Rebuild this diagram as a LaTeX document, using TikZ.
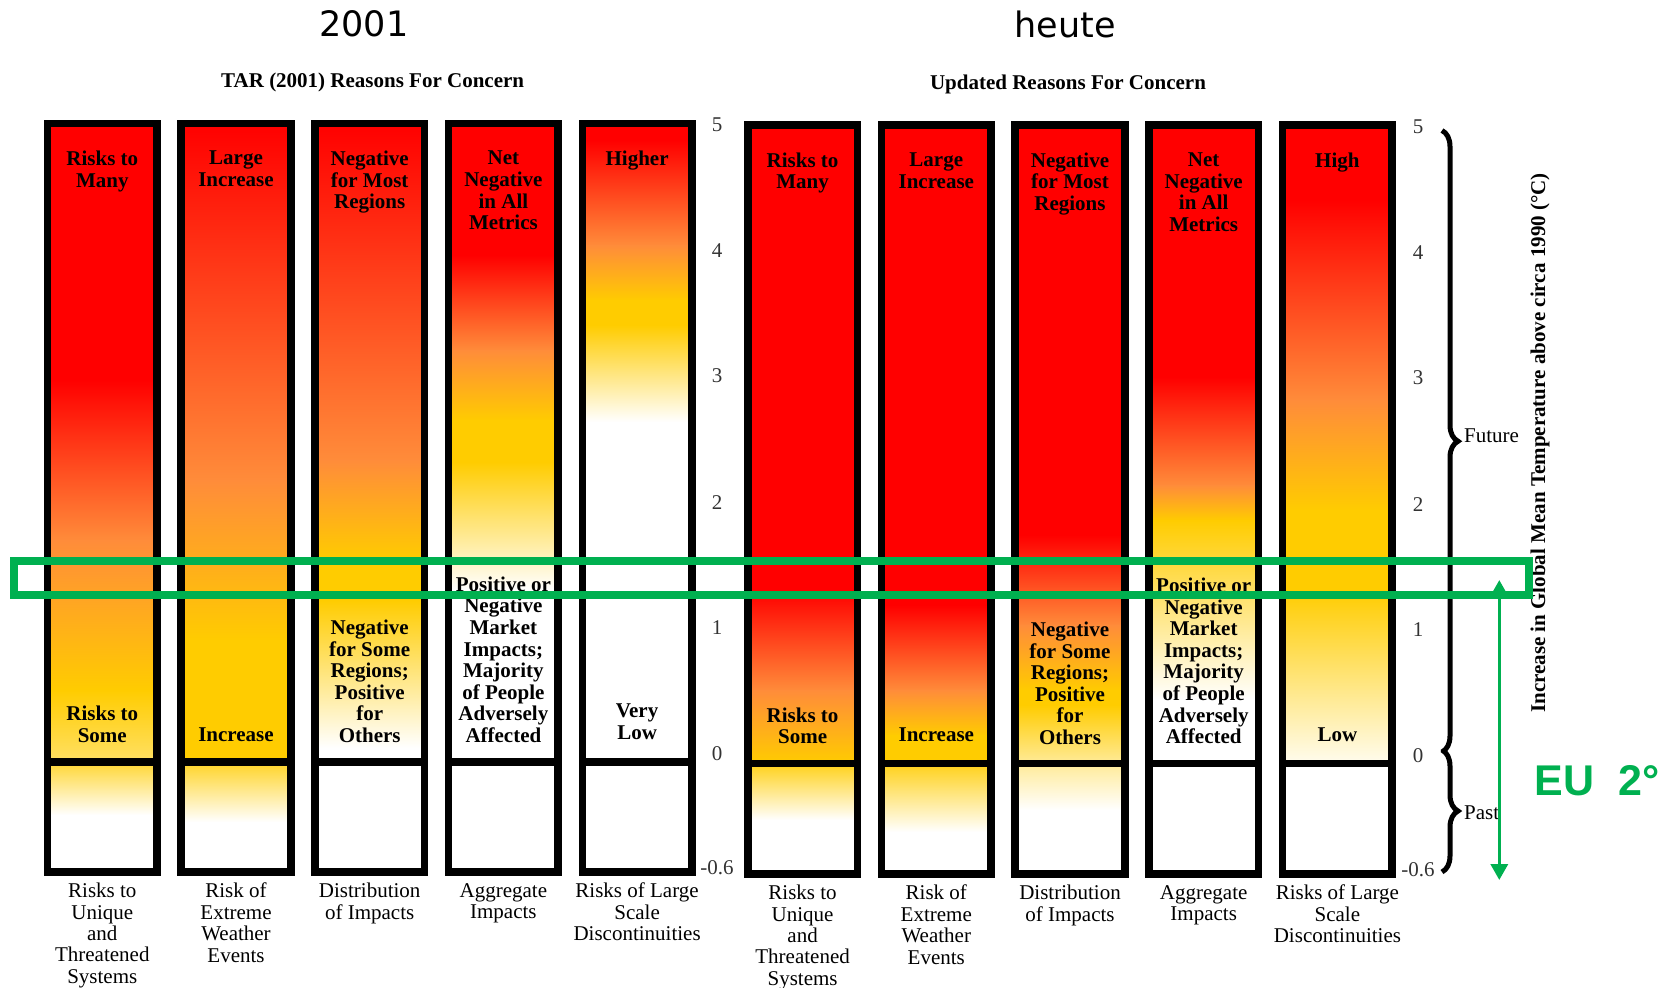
\documentclass[tikz,border=0pt]{standalone}
\usepackage{fontspec}
\setmainfont{Liberation Serif}
\newfontfamily\headfont{DejaVu Sans}
\newfontfamily\eufont{Liberation Sans}
\usetikzlibrary{arrows.meta,decorations.pathreplacing}
\definecolor{emred}{RGB}{255,0,0}
\definecolor{emorange}{RGB}{255,140,58}
\definecolor{emyellow}{RGB}{255,204,0}
\definecolor{emlight}{RGB}{255,224,100}
\definecolor{empale}{RGB}{255,252,238}
\definecolor{eugreen}{RGB}{0,176,80}
\tikzset{
  ember/.style={draw=black,line width=7.5pt},
  emtext/.style={font=\bfseries\fontsize{21}{21.6}\selectfont,align=center,inner sep=0pt,anchor=north},
  reason/.style={font=\fontsize{21}{21.4}\selectfont,align=center,inner sep=0pt,anchor=north},
  tickl/.style={font=\fontsize{21}{21}\selectfont,text=black!80,inner sep=0pt},
  heading/.style={font=\bfseries\fontsize{21}{21}\selectfont,inner sep=0pt},
  yearlabel/.style={font=\headfont\fontsize{35}{35}\selectfont,inner sep=0pt},
  sidetext/.style={font=\fontsize{21}{21}\selectfont,inner sep=0pt,anchor=west},
  bracket/.style={draw=black,line width=5pt,decorate,decoration={brace,amplitude=16pt}},
  eubox/.style={draw=eugreen,line width=8pt},
  euarrow/.style={draw=eugreen,line width=3.5pt,arrows={Triangle[width=17pt,length=16pt]-Triangle[width=17pt,length=16pt]}},
  eulabel/.style={font=\eufont\bfseries\fontsize{43}{43}\selectfont,text=eugreen,inner sep=0pt},
}
\begin{document}
    \begin{tikzpicture}[x=1pt,y=-1pt]
      \useasboundingbox (0,0) rectangle (1666,988);
      \fill[emred] (47.5,123.5) rectangle (157,381);
      \shade[top color=emred,bottom color=emorange] (47.5,380) rectangle (157,541);
      \shade[top color=emorange,bottom color=emyellow] (47.5,540) rectangle (157,691);
      \shade[top color=emyellow,bottom color=emlight] (47.5,690) rectangle (157,762);
      \shade[top color=emyellow!80!white,bottom color=white] (47.5,762) rectangle (157,815);
      \shade[top color=emred,bottom color=emorange] (181,123.5) rectangle (291,481);
      \shade[top color=emorange,bottom color=emyellow] (181,480) rectangle (291,641);
      \fill[emyellow] (181,640) rectangle (291,762);
      \shade[top color=emyellow!85!white,bottom color=white] (181,762) rectangle (291,822);
      \shade[top color=emred,bottom color=emorange] (315,123.5) rectangle (424.5,461);
      \shade[top color=emorange,bottom color=emyellow] (315,460) rectangle (424.5,561);
      \fill[emyellow] (315,560) rectangle (424.5,601);
      \shade[top color=emyellow,bottom color=white] (315,600) rectangle (424.5,748);
      \fill[emred] (448.5,123.5) rectangle (558,256);
      \shade[top color=emred,bottom color=emorange] (448.5,255) rectangle (558,351);
      \shade[top color=emorange,bottom color=emyellow] (448.5,350) rectangle (558,421);
      \fill[emyellow] (448.5,420) rectangle (558,463);
      \shade[top color=emyellow,bottom color=white] (448.5,462) rectangle (558,590);
      \fill[emred] (582.5,123.5) rectangle (692,141);
      \shade[top color=emred,bottom color=emorange] (582.5,140) rectangle (692,246);
      \shade[top color=emorange,bottom color=emyellow] (582.5,245) rectangle (692,301);
      \fill[emyellow] (582.5,300) rectangle (692,326);
      \shade[top color=emyellow,bottom color=white] (582.5,325) rectangle (692,422);
      \fill[emred] (748,125) rectangle (857.5,591);
      \shade[top color=emred,bottom color=emorange] (748,590) rectangle (857.5,691);
      \shade[top color=emorange,bottom color=emyellow] (748,690) rectangle (857.5,763.5);
      \shade[top color=emyellow!90!white,bottom color=white] (748,763.5) rectangle (857.5,820);
      \fill[emred] (881.5,125) rectangle (991,606);
      \shade[top color=emred,bottom color=emorange] (881.5,605) rectangle (991,691);
      \shade[top color=emorange,bottom color=emyellow] (881.5,690) rectangle (991,736);
      \fill[emyellow] (881.5,735) rectangle (991,763.5);
      \shade[top color=emyellow!90!white,bottom color=white] (881.5,763.5) rectangle (991,832);
      \fill[emred] (1015,125) rectangle (1125,536);
      \shade[top color=emred,bottom color=emorange] (1015,535) rectangle (1125,626);
      \shade[top color=emorange,bottom color=emyellow] (1015,625) rectangle (1125,691);
      \fill[emyellow] (1015,690) rectangle (1125,706);
      \shade[top color=emyellow,bottom color=emyellow!40!white] (1015,705) rectangle (1125,763.5);
      \shade[top color=emyellow!40!white,bottom color=white] (1015,763.5) rectangle (1125,810);
      \fill[emred] (1149,125) rectangle (1258.5,378);
      \shade[top color=emred,bottom color=emorange] (1149,377) rectangle (1258.5,486);
      \shade[top color=emorange,bottom color=emyellow] (1149,485) rectangle (1258.5,521);
      \shade[top color=emyellow,bottom color=white] (1149,520) rectangle (1258.5,700);
      \fill[emred] (1282.5,125) rectangle (1392,201);
      \shade[top color=emred,bottom color=emorange] (1282.5,200) rectangle (1392,401);
      \shade[top color=emorange,bottom color=emyellow] (1282.5,400) rectangle (1392,511);
      \fill[emyellow] (1282.5,510) rectangle (1392,591);
      \shade[top color=emyellow,bottom color=empale] (1282.5,590) rectangle (1392,763.5);
      \draw[ember] (47.5,123.5) rectangle (157,872) (47.5,762) -- (157,762);
      \draw[ember] (181,123.5) rectangle (291,872) (181,762) -- (291,762);
      \draw[ember] (315,123.5) rectangle (424.5,872) (315,762) -- (424.5,762);
      \draw[ember] (448.5,123.5) rectangle (558,872) (448.5,762) -- (558,762);
      \draw[ember] (582.5,123.5) rectangle (692,872) (582.5,762) -- (692,762);
      \draw[ember] (748,125) rectangle (857.5,874) (748,763.5) -- (857.5,763.5);
      \draw[ember] (881.5,125) rectangle (991,874) (881.5,763.5) -- (991,763.5);
      \draw[ember] (1015,125) rectangle (1125,874) (1015,763.5) -- (1125,763.5);
      \draw[ember] (1149,125) rectangle (1258.5,874) (1149,763.5) -- (1258.5,763.5);
      \draw[ember] (1282.5,125) rectangle (1392,874) (1282.5,763.5) -- (1392,763.5);
      \path[yearlabel]
        (364,24) node (oldyear){2001}
        (1065,24) node (newyear){heute};
      \path[heading]
        (372.7,82.5) node (oldhead){TAR (2001) Reasons For Concern}
        (1068,84) node (newhead){Updated Reasons For Concern};
      \path[emtext]
        (102.3,151) node (old1){Risks to\\Many}
        (236,151) node (old2){Large\\Increase}
        (369.7,151) node (old3){Negative\\for Most\\Regions}
        (503.4,151) node (old4){Net\\Negative\\in All\\Metrics}
        (637.1,151) node (old5){Higher}
        (802.6,152.5) node (new1){Risks to\\Many}
        (936.3,152.5) node (new2){Large\\Increase}
        (1070,152.5) node (new3){Negative\\for Most\\Regions}
        (1203.7,152.5) node (new4){Net\\Negative\\in All\\Metrics}
        (1337.4,152.5) node (new5){High};
      \path[emtext]
        (102.3,706) node (old1low){Risks to\\Some}
        (236,727.7) node (old2low){Increase}
        (369.7,619.7) node (old3low){Negative\\for Some\\Regions;\\Positive\\for\\Others}
        (503.4,576.5) node (old4low){Positive or\\Negative\\Market\\Impacts;\\Majority\\of People\\Adversely\\Affected}
        (637.1,704) node (old5low){Very\\Low}
        (802.6,707.6) node (new1low){Risks to\\Some}
        (936.3,727.7) node (new2low){Increase}
        (1070,621.7) node (new3low){Negative\\for Some\\Regions;\\Positive\\for\\Others}
        (1203.7,577.7) node (new4low){Positive or\\Negative\\Market\\Impacts;\\Majority\\of People\\Adversely\\Affected}
        (1337.4,727.7) node (new5low){Low};
      \path[reason]
        (102.3,883) node (old1name){Risks to\\Unique\\and\\Threatened\\Systems}
        (236,883) node (old2name){Risk of\\Extreme\\Weather\\Events}
        (369.7,883) node (old3name){Distribution\\of Impacts}
        (503.4,883) node (old4name){Aggregate\\Impacts}
        (637.1,883) node (old5name){Risks of Large\\Scale\\Discontinuities}
        (802.6,885) node (new1name){Risks to\\Unique\\and\\Threatened\\Systems}
        (936.3,885) node (new2name){Risk of\\Extreme\\Weather\\Events}
        (1070,885) node (new3name){Distribution\\of Impacts}
        (1203.7,885) node (new4name){Aggregate\\Impacts}
        (1337.4,885) node (new5name){Risks of Large\\Scale\\Discontinuities};
      \path[tickl]
        (717,125) node (oldt5){5}
        (717,251) node (oldt4){4}
        (717,376) node (oldt3){3}
        (717,503) node (oldt2){2}
        (717,628) node (oldt1){1}
        (717,754) node (oldt0){0}
        (717,868) node (oldtm){-0.6}
        (1418,126.5) node (newt5){5}
        (1418,253) node (newt4){4}
        (1418,378) node (newt3){3}
        (1418,505) node (newt2){2}
        (1418,630) node (newt1){1}
        (1418,756) node (newt0){0}
        (1418,870) node (newtm){-0.6};
      \coordinate (fut5) at (1442,130.5);
      \coordinate (fut0) at (1442,752);
      \coordinate (past0) at (1442,750);
      \coordinate (past6) at (1442,872);
      \draw[bracket] (fut5) -- (fut0);
      \draw[bracket] (past0) -- (past6);
      \node[sidetext] (future) at (1464,436) {Future};
      \node[sidetext] (past) at (1464,813) {Past};
      \node[heading,rotate=90] (axis) at (1540,443) {Increase in Global Mean Temperature above circa 1990 (°C)};
      \draw[eubox] (14,561) rectangle (1529,594.5);
      \coordinate (eutop) at (1499.3,580);
      \coordinate (eubot) at (1499.3,880);
      \draw[euarrow] (eutop) -- (eubot);
      \node[eulabel] (eu) at (1597,781) {EU~~2°};
    \end{tikzpicture}
\end{document}
